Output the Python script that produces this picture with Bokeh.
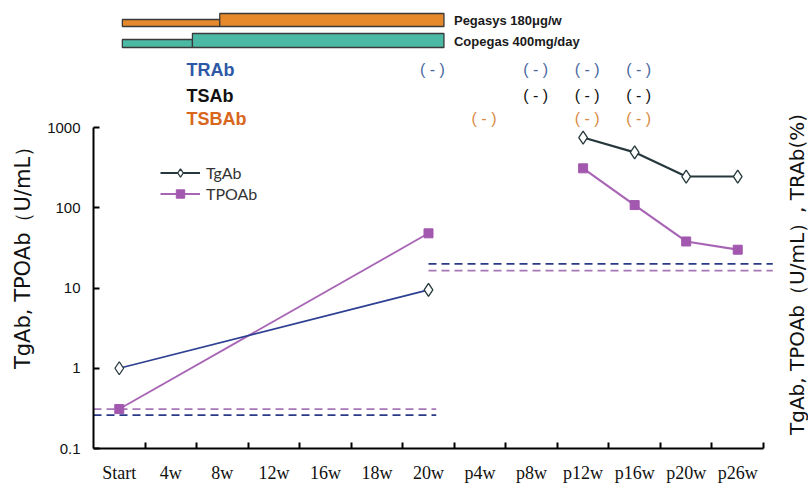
import math

from bokeh.core.properties import value
from bokeh.embed import file_html
from bokeh.models import (ColumnDataSource, CustomJSTickFormatter, FixedTicker,
                          Legend, LegendItem, LinearAxis, LinearScale, LogAxis,
                          Range1d)
from bokeh.plotting import figure
from bokeh.resources import INLINE

# ---------------------------------------------------------------- data
timepoints = ["Start", "4w", "8w", "12w", "16w", "18w", "20w",
              "p4w", "p8w", "p12w", "p16w", "p20w", "p26w"]

# antibody titres (U/mL) during and after therapy
tgab_on_t = ["Start", "20w"]
tgab_on = [1.0, 9.5]
tgab_post_t = ["p12w", "p16w", "p20w", "p26w"]
tgab_post = [750, 490, 245, 245]

tpoab_on_t = ["Start", "20w"]
tpoab_on = [0.31, 48]
tpoab_post_t = ["p12w", "p16w", "p20w", "p26w"]
tpoab_post = [310, 108, 38, 30]

# assay cut-off values (two kits: before / after the switch)
cutoff_tgab = [0.26, 20]
cutoff_tpoab = [0.31, 16.5]
cutoff_from = [-0.5, 6.0]
cutoff_to = [6.15, 12.68]

# treatment periods, in time-point index units
pegasys_reduced = (0.06, 1.95)
pegasys_full = (1.95, 6.3)
copegas_reduced = (0.06, 1.42)
copegas_full = (1.42, 6.3)

# negative receptor-antibody results
trab_neg = ["20w", "p8w", "p12w", "p16w"]
tsab_neg = ["p8w", "p12w", "p16w"]
tsbab_neg = ["p4w", "p12w", "p16w"]

idx = {t: i for i, t in enumerate(timepoints)}

# ---------------------------------------------------------------- geometry
W, H = 808, 487
AX_LEFT, AX_RIGHT = 93, 763          # x axis extent (px)
AX_TOP, AX_BOTTOM = 127, 448         # y axis extent (px), 1000 .. 0.1
PX_PER_CAT = (AX_RIGHT - AX_LEFT) / len(timepoints)
PX_PER_DEC = (AX_BOTTOM - AX_TOP) / 4.0

x_range = Range1d(-0.5 - AX_LEFT / PX_PER_CAT, -0.5 + (W - AX_LEFT) / PX_PER_CAT)
y_range = Range1d(10 ** (-1 - (H - AX_BOTTOM) / PX_PER_DEC),
                  10 ** (3 + AX_TOP / PX_PER_DEC))

FONT = "Liberation Sans"
TITLE_FONT = "DejaVu Sans"

p = figure(width=W, height=H, x_range=x_range, y_range=y_range,
           y_axis_type="log", x_axis_location=None, y_axis_location=None,
           output_backend="svg", toolbar_location=None,
           min_border_left=0, min_border_right=0,
           min_border_top=0, min_border_bottom=0)
p.grid.visible = False
p.outline_line_color = None
# page-pixel coordinates for the header rows and titles
p.extra_x_ranges = {"px": Range1d(0, W)}
p.extra_y_ranges = {"px": Range1d(H, 0)}
p.extra_x_scales = {"px": LinearScale()}
p.extra_y_scales = {"px": LinearScale()}

# ------------------------------------------------ therapy bars
PEG = "#E5892C"
COP = "#4CB9A5"
EDGE = "#3A3A3A"

bars = ColumnDataSource(dict(
    left=[pegasys_reduced[0], pegasys_full[0], copegas_reduced[0], copegas_full[0]],
    right=[pegasys_reduced[1], pegasys_full[1], copegas_reduced[1], copegas_full[1]],
    top=[19, 13, 39, 33],
    bottom=[26, 26, 47, 47],
    color=[PEG, PEG, COP, COP],
))
p.quad(left="left", right="right", top="top", bottom="bottom", source=bars,
       fill_color="color", line_color=EDGE, line_width=1.3, y_range_name="px")

p.text(x=[pegasys_full[1], copegas_full[1]], y=[19.5, 40.5],
       text=["Pegasys 180\u03bcg/w", "Copegas 400mg/day"], y_range_name="px",
       x_offset=10, text_font=value(FONT), text_font_style="bold",
       text_font_size="13px", text_baseline="middle", text_align="left",
       text_color="#1A1A1A")

# ------------------------------------------------ receptor antibody rows
rows = [("TRAb", trab_neg, 69, "#2E58A6", "#4A689E"),
        ("TSAb", tsab_neg, 95, "#111111", "#111111"),
        ("TSBAb", tsbab_neg, 118, "#D8661C", "#D98B45")]
for name, negs, yy, c_label, c_mark in rows:
    p.text(x=[186], y=[yy], text=[name], x_range_name="px", y_range_name="px",
           text_font=value(FONT), text_font_style="bold", text_font_size="18px",
           text_baseline="middle", text_align="left", text_color=c_label)
    p.text(x=[idx[t] for t in negs], y=[yy] * len(negs), y_range_name="px",
           text=["( - )"] * len(negs), x_offset=4, text_font=value(FONT),
           text_font_size="16px", text_baseline="middle", text_align="center",
           text_color=c_mark)

# ------------------------------------------------ cut-off lines
BLUE_DASH = "#2B3A88"
PURP_DASH = "#A877B6"
for lo, hi, cg, cp in zip(cutoff_from, cutoff_to, cutoff_tgab, cutoff_tpoab):
    p.line([lo, hi], [cg, cg], line_color=BLUE_DASH, line_width=1.8, line_dash="8 5")
    p.line([lo, hi], [cp, cp], line_color=PURP_DASH, line_width=1.8, line_dash="8 5")

# ------------------------------------------------ titres
TG_BLUE = "#2D3F92"
TG_DARK = "#26383C"
TPO = "#A865B5"
TPO_MK = "#A258AE"

x_tg_on = [idx[t] for t in tgab_on_t]
x_tg_post = [idx[t] for t in tgab_post_t]
x_tpo_on = [idx[t] for t in tpoab_on_t]
x_tpo_post = [idx[t] for t in tpoab_post_t]

tpo_l1 = p.line(x_tpo_on, tpoab_on, line_color=TPO, line_width=1.8)
tpo_l2 = p.line(x_tpo_post, tpoab_post, line_color=TPO, line_width=2.2)
tpo_m = p.scatter(x_tpo_on + x_tpo_post, tpoab_on + tpoab_post, marker="square",
                  size=9, fill_color=TPO_MK, line_color=TPO_MK)

tg_l1 = p.line(x_tg_on, tgab_on, line_color=TG_BLUE, line_width=1.8)
tg_l2 = p.line(x_tg_post, tgab_post, line_color=TG_DARK, line_width=2.2)
tg_m = p.scatter(x_tg_on + x_tg_post, tgab_on + tgab_post, marker="diamond",
                 size=13, fill_color="white", line_color=TG_DARK, line_width=1.3)

legend = Legend(items=[LegendItem(label="TgAb", renderers=[tg_l2, tg_m]),
                       LegendItem(label="TPOAb", renderers=[tpo_l2, tpo_m])],
                location=(160, H - 204), padding=0, margin=0, spacing=0,
                glyph_width=40, glyph_height=21, label_height=21,
                label_standoff=6, label_text_font="Lato",
                label_text_font_size="16px", label_text_color="#333333",
                border_line_alpha=0, background_fill_alpha=0)
p.add_layout(legend)

# ------------------------------------------------ axes
xa = LinearAxis(fixed_location=0.1, bounds=(-0.5, len(timepoints) - 0.5))
xa.ticker = FixedTicker(ticks=list(range(len(timepoints))),
                        minor_ticks=[i + 0.5 for i in range(len(timepoints))])
xa.major_label_overrides = {i: t for i, t in enumerate(timepoints)}
xa.major_tick_in = 0
xa.major_tick_out = 0
xa.minor_tick_in = 6
xa.minor_tick_out = 0
xa.minor_tick_line_width = 2
xa.minor_tick_line_color = "black"
xa.axis_line_width = 2
xa.axis_line_color = "black"
xa.major_label_standoff = 14
xa.major_label_text_font = "Liberation Sans Narrow"
xa.major_label_text_font_size = "18px"
xa.major_label_text_color = "#111111"
p.add_layout(xa, "below")

ya = LogAxis(fixed_location=-0.5, bounds=(0.1, 1000))
ya.ticker = FixedTicker(ticks=[0.1, 1, 10, 100, 1000], minor_ticks=[])
ya.formatter = CustomJSTickFormatter(
    code="return tick >= 1 ? tick.toFixed(0) : tick.toFixed(1);")
ya.major_tick_in = 6
ya.major_tick_out = 0
ya.major_tick_line_width = 2
ya.axis_line_width = 2
ya.axis_line_color = "black"
ya.major_label_standoff = 13
ya.major_label_text_font = FONT
ya.major_label_text_font_size = "15px"
ya.major_label_text_color = "#111111"
p.add_layout(ya, "left")

# axis titles
p.text(x=[22], y=[252], text=["TgAb, TPOAb\uff08U/mL\uff09"], angle=math.pi / 2,
       x_range_name="px", y_range_name="px", text_font=value(TITLE_FONT),
       text_font_size="21px", text_color="#111111",
       text_align="center", text_baseline="middle")
p.text(x=[796], y=[274], text=["TgAb, TPOAb\uff08U/mL\uff09, TRAb(%)"],
       angle=math.pi / 2, x_range_name="px", y_range_name="px",
       text_font=value(TITLE_FONT), text_font_size="20px", text_color="#111111",
       text_align="center", text_baseline="middle")

open("out.html", "w").write(file_html(p, INLINE))
